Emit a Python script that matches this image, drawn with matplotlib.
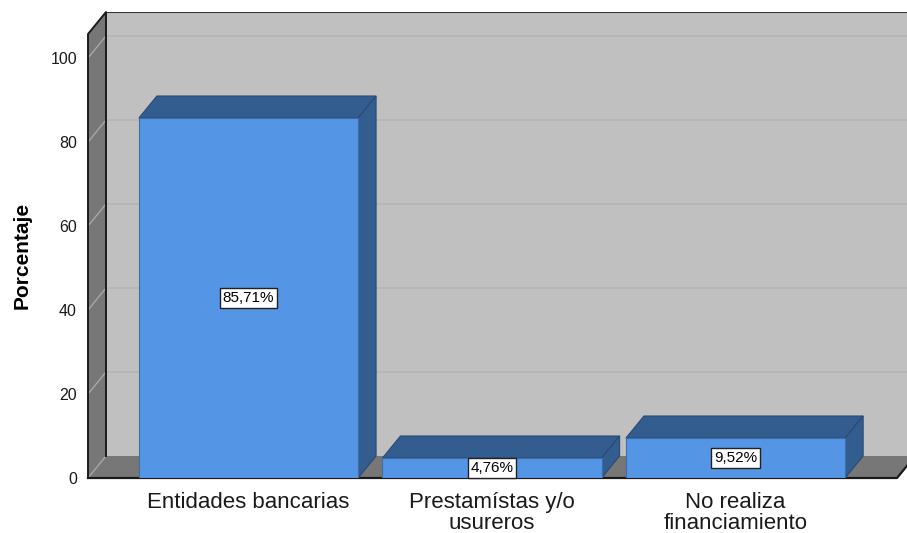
import matplotlib
matplotlib.use("Agg")
import matplotlib.pyplot as plt
from matplotlib.patches import Polygon, Rectangle

plt.rcParams['font.family'] = ['Liberation Sans', 'DejaVu Sans']

categories = ['Entidades bancarias', 'Prestamístas y/o\nusureros', 'No realiza\nfinanciamiento']
percentages = [85.71, 4.76, 9.52]
value_labels = ['85,71%', '4,76%', '9,52%']
y_ticks = [0, 20, 40, 60, 80, 100]

front_color = '#5595e5'
dark_color = '#335c8f'
wall_color = '#c0c0c0'
side_wall_color = '#777777'

fig = plt.figure(figsize=(9.07, 5.33), dpi=100)
ax = fig.add_axes([88 / 907, 55 / 533, 819 / 907, 466 / 533])

x_left, x_right = -0.659, 2.704
floor_right = 2.663
y_top = 105.7
dx, dy = 0.0739, 5.24
bar_w = 0.9

ax.set_xlim(x_left, x_right)
ax.set_ylim(0, 110.95)

# back wall + gridlines
ax.add_patch(Rectangle((x_left + dx, dy), x_right - x_left, y_top, facecolor=wall_color,
                       edgecolor='none', zorder=1))
for v in y_ticks[1:]:
    ax.plot([x_left + dx, x_right], [v + dy, v + dy], color='#b4b4b4', lw=1.1, zorder=2)
ax.plot([x_left + dx, x_right], [y_top + dy, y_top + dy], color='#333333', lw=1.5, zorder=6)

# left wall
ax.add_patch(Polygon([(x_left, 0), (x_left, y_top), (x_left + dx, y_top + dy), (x_left + dx, dy)],
                     closed=True, facecolor=side_wall_color, edgecolor='none', zorder=3))
for v in y_ticks:
    ax.plot([x_left, x_left + dx], [v, v + dy], color='#a8a8a8', lw=1.0, zorder=4)
ax.plot([x_left, x_left, x_left + dx, x_left + dx], [0, y_top, y_top + dy, dy],
        color='#1a1a1a', lw=1.4, zorder=6, clip_on=False)

# floor
ax.add_patch(Polygon([(x_left, 0), (floor_right, 0), (floor_right + dx, dy), (x_left + dx, dy)],
                     closed=True, facecolor=side_wall_color, edgecolor='none', zorder=3))
ax.plot([x_left, floor_right, floor_right + dx], [0, 0, dy], color='#1a1a1a', lw=1.6,
        zorder=4, clip_on=False)

# bars
for i, v in enumerate(percentages):
    l, r = i - bar_w / 2, i + bar_w / 2
    ax.add_patch(Polygon([(l, v), (r, v), (r + dx, v + dy), (l + dx, v + dy)], closed=True,
                         facecolor=dark_color, edgecolor='#2b4b73', lw=0.8, zorder=5))
    ax.add_patch(Polygon([(r, 0), (r, v), (r + dx, v + dy), (r + dx, dy)], closed=True,
                         facecolor=dark_color, edgecolor='#2b4b73', lw=0.8, zorder=5))
    ax.add_patch(Rectangle((l, 0), bar_w, v, facecolor=front_color, edgecolor='#3d6ea8',
                           lw=0.8, zorder=5))
    ax.text(i, v / 2, value_labels[i], ha='center', va='center', fontsize=11, color='black',
            zorder=7, bbox=dict(boxstyle='square,pad=0.18', facecolor='white',
                                edgecolor='#222222', lw=1))

ax.set_yticks(y_ticks)
ax.set_yticklabels([str(t) for t in y_ticks], fontsize=11.5, color='#1a1a1a')
ax.set_xticks(range(len(categories)))
ax.set_xticklabels(categories, fontsize=16, color='#1a1a1a', linespacing=1.02)
ax.tick_params(axis='both', length=0)
ax.tick_params(axis='y', pad=8)
ax.tick_params(axis='x', pad=10)
for s in ax.spines.values():
    s.set_visible(False)

fig.text(22 / 907, 1 - 255 / 533, 'Porcentaje', rotation=90, ha='center', va='center',
         fontsize=15, fontweight='bold', color='black')

fig.savefig('out.png', dpi=100)
